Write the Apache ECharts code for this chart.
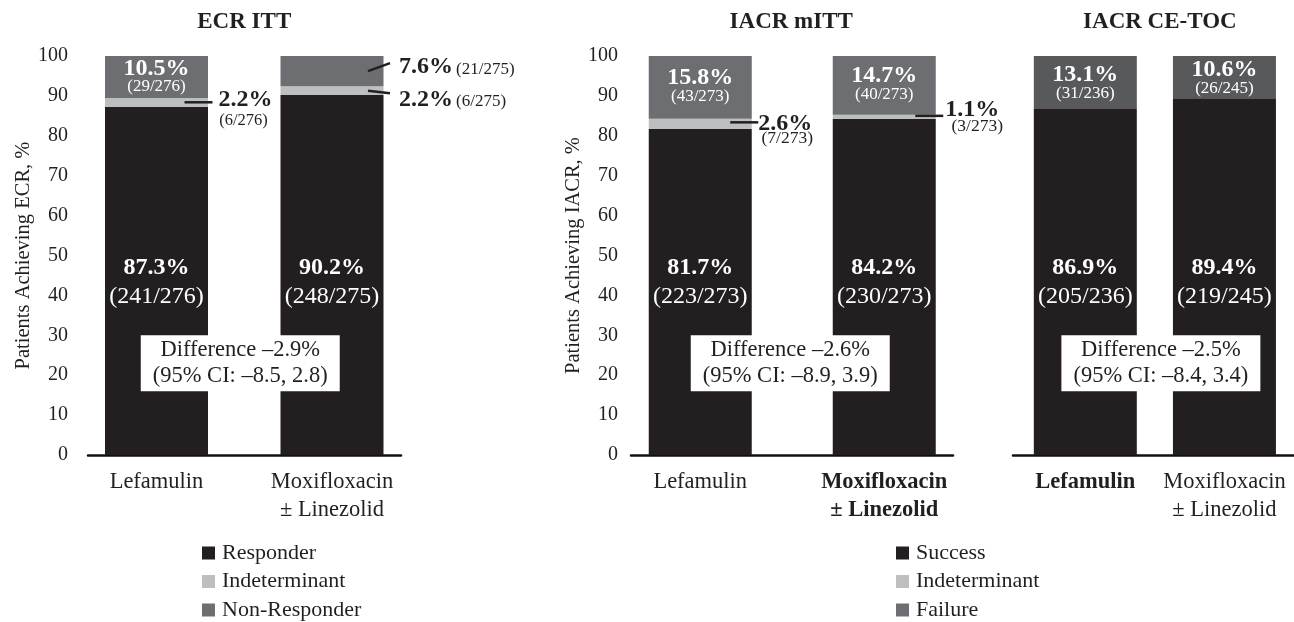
<!DOCTYPE html>
<html><head><meta charset="utf-8">
<script src="https://cdn.jsdelivr.net/npm/echarts@6/dist/echarts.min.js"></script>
<style>html,body{margin:0;padding:0;background:#fff}#c{width:1294px;height:622px}</style>
</head><body><div id="c"></div>
<script>
const FONT = '"Liberation Serif","Times New Roman",serif';
const categories = ['Lefamulin', 'Moxifloxacin\n± Linezolid'];
const panelTitles = ['ECR ITT', 'IACR mITT', 'IACR CE-TOC'];
const yNames = ['Patients Achieving ECR, %', 'Patients Achieving IACR, %', ''];
const yMin = 0, yMax = 100, yInterval = 10;
const boldCategory = [-1, 1, 0];

// ECR ITT
const ecrResponder = [87.3, 90.2];
const ecrIndeterminant = [2.2, 2.2];
const ecrNonResponder = [10.5, 7.6];
const ecrResponderN = [241, 248];
const ecrIndeterminantN = [6, 6];
const ecrNonResponderN = [29, 21];
const ecrTotal = [276, 275];
// IACR mITT
const mittSuccess = [81.7, 84.2];
const mittIndeterminant = [2.6, 1.1];
const mittFailure = [15.8, 14.7];
const mittSuccessN = [223, 230];
const mittIndeterminantN = [7, 3];
const mittFailureN = [43, 40];
const mittTotal = [273, 273];
// IACR CE-TOC
const cetocSuccess = [86.9, 89.4];
const cetocFailure = [13.1, 10.6];
const cetocSuccessN = [205, 219];
const cetocFailureN = [31, 26];
const cetocTotal = [236, 245];
// Differences
const diffValues = ['–2.9%', '–2.6%', '–2.5%'];
const diffCI = ['–8.5, 2.8', '–8.9, 3.9', '–8.4, 3.4'];

const C_DARK = '#231f20', C_IND = '#bcbec0', C_FAIL = '#6d6e71', C_FAIL3 = '#58595b';

const barGrids = [
  {left: 68.75, width: 351},
  {left: 608.25, width: 368},
  {left: 1015.75, width: 281}
];
const baseGrids = [
  {left: 88, width: 313},
  {left: 631, width: 322},
  {left: 1013, width: 281}
];
const titleDx = [0, -1, 5];
const boxDx = [-4, -2, 6];
const TOP = 56, H = 399;
const PXPV = H / (yMax - yMin);
const RESP_LABEL_LEVEL = 43.2; // common height of the big in-bar labels

const grid = [], xAxis = [], yAxis = [];
barGrids.forEach((g, k) => {
  grid.push({left: g.left, width: g.width, top: TOP, height: H, containLabel: false});
  xAxis.push({
    type: 'category', gridIndex: k, data: categories,
    axisLine: {show: false}, axisTick: {show: false},
    axisLabel: {
      interval: 0, hideOverlap: false,
      margin: 13, color: C_DARK, fontFamily: FONT, fontSize: 22.5, lineHeight: 28,
      formatter: (v, i) => i === boldCategory[k]
        ? v.split('\n').map(s => '{b|' + s + '}').join('\n')
        : v,
      rich: {b: {fontFamily: FONT, fontSize: 22.5, fontWeight: 'bold', color: C_DARK, lineHeight: 28}}
    }
  });
  yAxis.push({type: 'value', gridIndex: k, min: yMin, max: yMax, show: false});
});
baseGrids.forEach((g, k) => {
  grid.push({left: g.left, width: g.width, top: TOP, height: H, containLabel: false});
  xAxis.push({
    type: 'value', gridIndex: 3 + k, min: 0, max: 1,
    axisLine: {show: true, onZero: false, lineStyle: {color: '#111', width: 2.5}},
    axisTick: {show: false}, axisLabel: {show: false}, splitLine: {show: false}
  });
  yAxis.push({
    type: 'value', gridIndex: 3 + k, min: yMin, max: yMax, interval: yInterval,
    axisLine: {show: false}, axisTick: {show: false}, splitLine: {show: false},
    axisLabel: {show: k < 2, margin: k === 0 ? 20 : 13, color: C_DARK, fontFamily: FONT, fontSize: 20},
    name: yNames[k], nameLocation: 'middle', nameGap: k === 0 ? 53 : 44,
    nameTextStyle: {color: C_DARK, fontFamily: FONT, fontSize: 20.5}
  });
});

const richBig = {
  b: {fontFamily: FONT, fontSize: 24, fontWeight: 'bold', color: '#fff', lineHeight: 29},
  s: {fontFamily: FONT, fontSize: 24, color: '#fff', lineHeight: 29}
};
const richTop = {
  b: {fontFamily: FONT, fontSize: 24, fontWeight: 'bold', color: '#fff', lineHeight: 20},
  s: {fontFamily: FONT, fontSize: 17, color: '#fff', lineHeight: 17}
};

function labelText(pct, n, tot) {
  return '{b|' + pct.toFixed(1) + '%}\n{s|(' + n + '/' + tot + ')}';
}
// Responder/success segments: labels at a common level inside the bar
function respData(vals, ns, tots) {
  return vals.map((v, i) => ({
    value: v,
    label: {show: true, position: 'inside', rich: richBig,
      offset: [0, (v / 2 - RESP_LABEL_LEVEL) * PXPV],
      formatter: labelText(v, ns[i], tots[i])}
  }));
}
// Top segments: label inside the segment when shown
function topData(vals, ns, tots, show, dy) {
  return vals.map((v, i) => ({
    value: v,
    label: show[i] ? {show: true, position: 'inside', rich: richTop, offset: [0, dy || 0],
      formatter: labelText(v, ns[i], tots[i])} : {show: false}
  }));
}

function bar(name, k, data, color) {
  return {
    name, type: 'bar', xAxisIndex: k, yAxisIndex: k, stack: 'p' + k, data,
    barWidth: 103, itemStyle: {color}, label: {show: false},
    emphasis: {disabled: true}, animation: false
  };
}

const series = [
  bar('Responder', 0, respData(ecrResponder, ecrResponderN, ecrTotal), C_DARK),
  bar('Indeterminant', 0, ecrIndeterminant, C_IND),
  bar('Non-Responder', 0, topData(ecrNonResponder, ecrNonResponderN, ecrTotal, [1, 0], 0), C_FAIL),
  bar('Success', 1, respData(mittSuccess, mittSuccessN, mittTotal), C_DARK),
  bar('Indeterminant', 1, mittIndeterminant, C_IND),
  bar('Failure', 1, topData(mittFailure, mittFailureN, mittTotal, [1, 1], -1), C_FAIL),
  bar('Success', 2, respData(cetocSuccess, cetocSuccessN, cetocTotal), C_DARK),
  bar('Failure', 2, topData(cetocFailure, cetocFailureN, cetocTotal, [1, 1], 1), C_FAIL3)
];

const legendCommon = {
  orient: 'vertical', icon: 'rect', itemWidth: 13, itemHeight: 13, itemGap: 6.5, top: 542,
  padding: 0, height: 120,
  textStyle: {fontFamily: FONT, fontSize: 22, color: C_DARK, lineHeight: 22, padding: [0, 0, 0, 2]},
  selectedMode: false
};
const legend = [
  Object.assign({}, legendCommon, {left: 202, data: ['Responder', 'Indeterminant', 'Non-Responder']}),
  Object.assign({}, legendCommon, {left: 896, data: ['Success', 'Indeterminant', 'Failure']})
];

const chart = echarts.init(document.getElementById('c'), null, {renderer: 'canvas'});
chart.setOption({animation: false, backgroundColor: '#fff', grid, xAxis, yAxis, series, legend});

// Annotations positioned through the library's scales
function px(k, cat, val) { return chart.convertToPixel({gridIndex: k}, [cat, val]); }
const g = [];
function txt(x, y, text, size, bold, align, va) {
  g.push({type: 'text', silent: true, z: 100, style: {
    x, y, text, fill: C_DARK, font: (bold ? 'bold ' : '') + size + 'px ' + FONT,
    align: align || 'left', verticalAlign: va || 'middle'
  }});
}
function line(x1, y1, x2, y2) {
  g.push({type: 'line', silent: true, z: 100, shape: {x1, y1, x2, y2}, style: {stroke: C_DARK, lineWidth: 2.5}});
}
for (let k = 0; k < 3; k++) {
  const mid = (px(k, 0, 0)[0] + px(k, 1, 0)[0]) / 2;
  txt(mid + titleDx[k], 22, panelTitles[k], 23, true, 'center');
  g.push({type: 'text', silent: true, z: 100, style: {
    x: mid + boxDx[k], y: px(k, 0, 23)[1], text: 'Difference ' + diffValues[k] + '\n(95% CI: ' + diffCI[k] + ')',
    fill: C_DARK, font: '22.5px ' + FONT, align: 'center', verticalAlign: 'middle',
    lineHeight: 26, backgroundColor: '#fff', padding: [2, 12]
  }});
}
// ECR ITT outside labels
(function () {
  let p = px(0, 0, ecrResponder[0] + ecrIndeterminant[0] / 2), cx = p[0], y = p[1];
  line(cx + 28, y, cx + 56, y);
  txt(cx + 62, y - 2, ecrIndeterminant[0].toFixed(1) + '%', 24, true);
  txt(cx + 87, y + 18, '(' + ecrIndeterminantN[0] + '/' + ecrTotal[0] + ')', 16.5, false, 'center');
  p = px(0, 1, ecrResponder[1] + ecrIndeterminant[1] + ecrNonResponder[1] / 2); cx = p[0]; y = p[1];
  line(cx + 36, y, cx + 58, y - 8);
  txt(cx + 67, y - 4, ecrNonResponder[1].toFixed(1) + '%', 24, true);
  txt(cx + 124, y - 2, '(' + ecrNonResponderN[1] + '/' + ecrTotal[1] + ')', 17);
  p = px(0, 1, ecrResponder[1] + ecrIndeterminant[1] / 2); cx = p[0]; y = p[1];
  line(cx + 36, y, cx + 58, y + 2.5);
  txt(cx + 67, y + 9.5, ecrIndeterminant[1].toFixed(1) + '%', 24, true);
  txt(cx + 124, y + 11, '(' + ecrIndeterminantN[1] + '/' + ecrTotal[1] + ')', 17);
})();
// IACR mITT outside labels
(function () {
  let p = px(1, 0, mittSuccess[0] + mittIndeterminant[0] / 2), cx = p[0], y = p[1];
  line(cx + 30, y - 1.5, cx + 58, y - 1.5);
  txt(cx + 58, y, mittIndeterminant[0].toFixed(1) + '%', 24, true);
  txt(cx + 87, y + 15, '(' + mittIndeterminantN[0] + '/' + mittTotal[0] + ')', 17.5, false, 'center');
  p = px(1, 1, mittSuccess[1] + mittIndeterminant[1] / 2); cx = p[0]; y = p[1];
  line(cx + 31, y - 1, cx + 59, y - 1);
  txt(cx + 61, y - 7, mittIndeterminant[1].toFixed(1) + '%', 24, true);
  txt(cx + 93, y + 10, '(' + mittIndeterminantN[1] + '/' + mittTotal[1] + ')', 17.5, false, 'center');
})();
chart.setOption({graphic: {elements: g}});
</script></body></html>
